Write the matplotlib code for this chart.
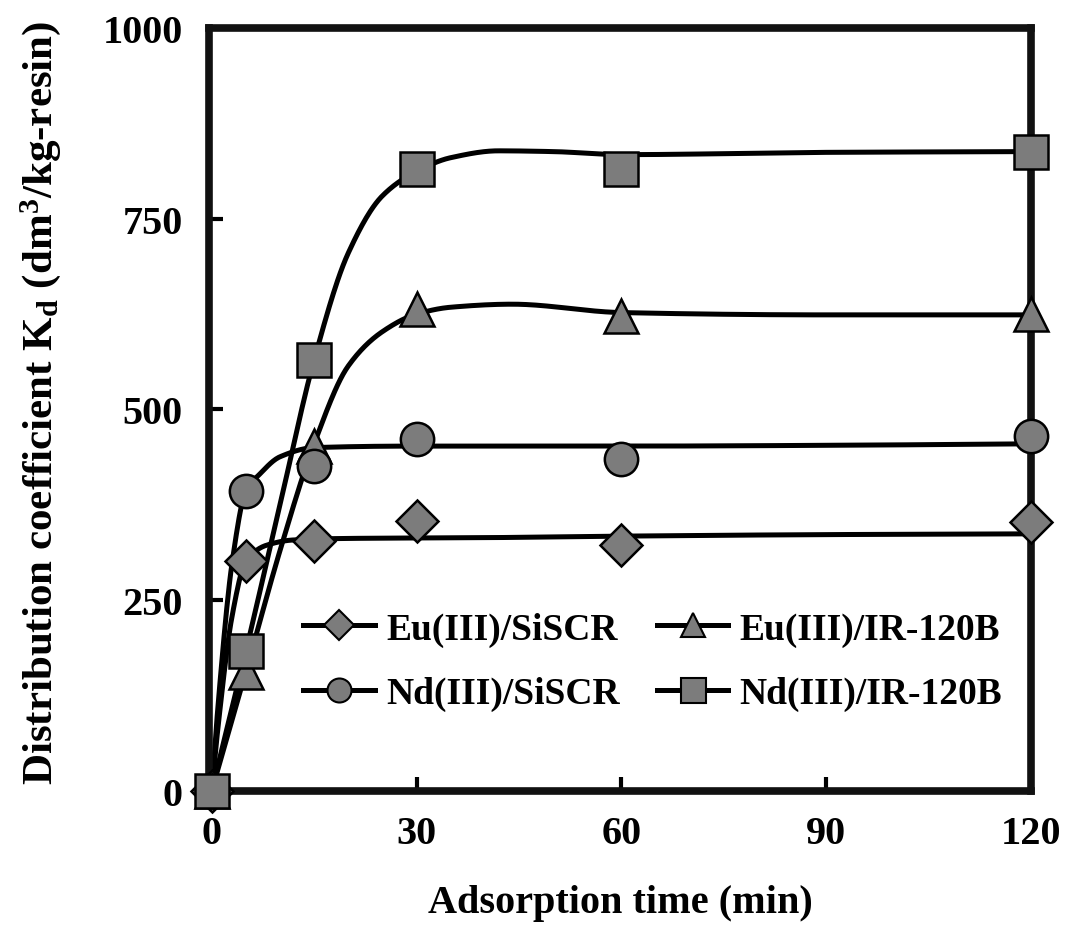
import numpy as np
import matplotlib
matplotlib.use("Agg")
import matplotlib.pyplot as plt
from matplotlib.lines import Line2D

# ---- data ----
time_min = [0, 5, 15, 30, 60, 120]
eu_siscr = [0, 301, 328, 354, 322, 352]
nd_siscr = [0, 393, 426, 461, 435, 465]
eu_ir120b = [0, 156, 452, 632, 622, 625]
nd_ir120b = [0, 183, 565, 815, 815, 838]

# smooth guide curves drawn in the reference (read at these times)
fit_t_eu_siscr = [0, 1, 3, 5, 8, 12, 20, 40, 60, 90, 120]
fit_v_eu_siscr = [0, 90, 230, 301, 322, 329, 331, 332, 334, 336, 337]
fit_t_nd_siscr = [0, 1, 3, 5, 7, 10, 15, 30, 60, 90, 120]
fit_v_nd_siscr = [0, 120, 300, 393, 415, 438, 450, 452, 452, 453, 455]
fit_t_eu_ir = [0, 5, 10, 15, 20, 25, 30, 35, 44, 60, 90, 120]
fit_v_eu_ir = [0, 156, 315, 455, 557, 602, 625, 634, 638, 627, 624, 624]
fit_t_nd_ir = [0, 5, 10, 15, 20, 25, 30, 35, 42, 50, 60, 90, 120]
fit_v_nd_ir = [0, 183, 375, 565, 705, 780, 812, 830, 839, 838, 834, 837, 838]

labels = ["Eu(III)/SiSCR", "Eu(III)/IR-120B", "Nd(III)/SiSCR", "Nd(III)/IR-120B"]
x_ticks = [0, 30, 60, 90, 120]
y_ticks = [0, 250, 500, 750, 1000]


def pchip(x, y, xs):
    x = np.asarray(x, float)
    y = np.asarray(y, float)
    h = np.diff(x)
    d = np.diff(y) / h
    n = len(x)
    m = np.zeros(n)
    for k in range(1, n - 1):
        if d[k - 1] * d[k] <= 0:
            m[k] = 0
        else:
            w1 = 2 * h[k] + h[k - 1]
            w2 = h[k] + 2 * h[k - 1]
            m[k] = (w1 + w2) / (w1 / d[k - 1] + w2 / d[k])
    m[0] = d[0]
    m[-1] = d[-1]
    idx = np.clip(np.searchsorted(x, xs) - 1, 0, n - 2)
    t = (xs - x[idx]) / h[idx]
    h00 = 2 * t**3 - 3 * t**2 + 1
    h10 = t**3 - 2 * t**2 + t
    h01 = -2 * t**3 + 3 * t**2
    h11 = t**3 - t**2
    return h00 * y[idx] + h10 * h[idx] * m[idx] + h01 * y[idx + 1] + h11 * h[idx] * m[idx + 1]


plt.rcParams["font.family"] = ["Liberation Serif", "DejaVu Serif"]
plt.rcParams["font.weight"] = "bold"
plt.rcParams["mathtext.fontset"] = "custom"
plt.rcParams["mathtext.rm"] = "Liberation Serif:bold"
plt.rcParams["mathtext.bf"] = "Liberation Serif:bold"
plt.rcParams["mathtext.it"] = "Liberation Serif:bold"

fig = plt.figure(figsize=(10.8, 9.29), dpi=100)
ax = fig.add_axes([0.1935, 0.1475, 0.7611, 0.8213])

gray = "#7c7c7c"
series = [
    (eu_siscr, fit_t_eu_siscr, fit_v_eu_siscr, "D", 21),
    (eu_ir120b, fit_t_eu_ir, fit_v_eu_ir, "^", 24),
    (nd_siscr, fit_t_nd_siscr, fit_v_nd_siscr, "o", 24),
    (nd_ir120b, fit_t_nd_ir, fit_v_nd_ir, "s", 25),
]

for vals, ft, fv, mk, ms in series:
    xs = np.linspace(0, 120, 600)
    ax.plot(xs, pchip(ft, fv, xs), color="black", lw=3.6, zorder=2, clip_on=False)
for vals, ft, fv, mk, ms in series:
    ax.plot(time_min, vals, linestyle="none", marker=mk, markersize=ms,
            markerfacecolor=gray, markeredgecolor="black", markeredgewidth=1.8,
            zorder=3, clip_on=False)

ax.set_xlim(-0.4, 120)
ax.set_ylim(0, 1000)
ax.set_xticks(x_ticks)
ax.set_yticks(y_ticks)
ax.tick_params(direction="in", length=10, width=3, labelsize=29,
               top=False, right=False)
ax.tick_params(axis="x", pad=17)
ax.tick_params(axis="y", pad=19)
for lab in ax.get_xticklabels() + ax.get_yticklabels():
    lab.set_fontweight("bold")
for sp in ax.spines.values():
    sp.set_linewidth(5.5)
    sp.set_color("#111111")

ax.set_xlabel("Adsorption time (min)", fontsize=29, fontweight="bold", labelpad=23)
ax.set_ylabel(r"Distribution coefficient K$_{\mathrm{d}}$ (dm$^{3}$/kg-resin)",
              fontsize=31, fontweight="bold", labelpad=26)
ax.yaxis.set_label_coords(-0.178, 0.51)

handles = []
for (vals, ft, fv, mk, ms), lab in zip(series, labels):
    handles.append(Line2D([], [], color="black", lw=3.6, marker=mk,
                          markersize=ms * 0.72, markerfacecolor=gray,
                          markeredgecolor="black", markeredgewidth=1.5, label=lab))
# legend fills column-wise: order so rows read Eu/SiSCR, Eu/IR ; Nd/SiSCR, Nd/IR
order = [0, 2, 1, 3]
leg = ax.legend(handles=[handles[i] for i in order], ncol=2, loc="center",
                bbox_to_anchor=(0.54, 0.17),
                frameon=False, handlelength=1.9, columnspacing=1.0,
                labelspacing=0.78, handletextpad=0.3,
                prop={"family": "Liberation Serif", "weight": "bold", "size": 27})

fig.savefig("out.png", dpi=100)
